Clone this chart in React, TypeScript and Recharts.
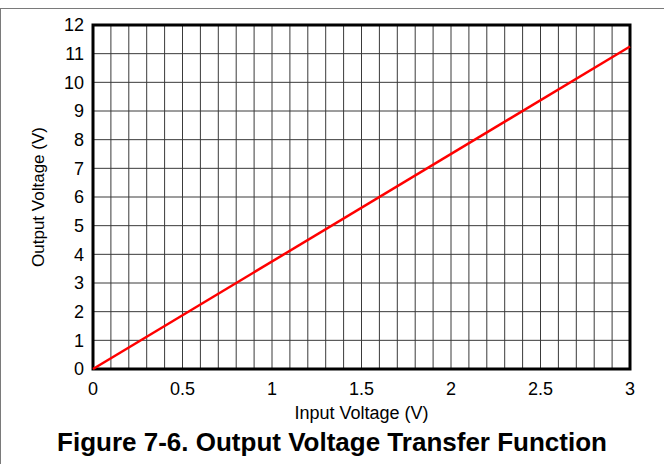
import {
  CartesianGrid,
  Label,
  Line,
  LineChart,
  ReferenceArea,
  XAxis,
  YAxis,
} from "recharts";

// transfer function: Vout vs Vin
const inputVoltage = [0, 3];
const outputVoltage = [0, 11.25];

const xTicks = [0, 0.5, 1, 1.5, 2, 2.5, 3];
const xGridTicks = [
  0, 0.1, 0.2, 0.3, 0.4, 0.5, 0.6, 0.7, 0.8, 0.9, 1, 1.1, 1.2, 1.3, 1.4, 1.5,
  1.6, 1.7, 1.8, 1.9, 2, 2.1, 2.2, 2.3, 2.4, 2.5, 2.6, 2.7, 2.8, 2.9, 3,
];
const yTicks = [0, 1, 2, 3, 4, 5, 6, 7, 8, 9, 10, 11, 12];

const FONT = '"Liberation Sans", Arial, Helvetica, sans-serif';

const data = inputVoltage.map((v, i) => ({ vin: v, vout: outputVoltage[i] }));

export default function App() {
  const tick = { fontSize: 18, fill: "#000", fontFamily: FONT };
  return (
    <div
      style={{
        position: "absolute",
        left: 0,
        top: 0,
        width: 664,
        height: 464,
        background: "#fff",
        fontFamily: FONT,
      }}
    >
      <div
        style={{
          position: "absolute",
          left: 0,
          top: 8,
          width: 664,
          height: 456,
          borderTop: "1px solid #7a7a7a",
          borderLeft: "1px solid #7a7a7a",
          boxSizing: "border-box",
        }}
      />
      <div style={{ position: "absolute", left: 0, top: 0 }}>
        <LineChart
          width={664}
          height={424}
          data={data}
          margin={{ top: 25, right: 34, bottom: 25, left: 0 }}
        >
          <XAxis
            xAxisId="grid"
            type="number"
            dataKey="vin"
            domain={[0, 3]}
            ticks={xGridTicks}
            interval={0}
            hide
          />
          <CartesianGrid xAxisId="grid" stroke="#3a3a3a" strokeWidth={1} />
          <XAxis
            type="number"
            dataKey="vin"
            domain={[0, 3]}
            ticks={xTicks}
            interval={0}
            height={30}
            tick={tick}
            tickLine={false}
            axisLine={false}
            tickSize={0}
            tickMargin={13}
          >
            <Label
              value="Input Voltage (V)"
              position="bottom"
              offset={7}
              style={{ fontSize: 18, fill: "#000", fontFamily: FONT }}
            />
          </XAxis>
          <YAxis
            type="number"
            domain={[0, 12]}
            ticks={yTicks}
            interval={0}
            width={93}
            tick={tick}
            tickLine={false}
            axisLine={false}
            tickSize={0}
            tickMargin={9}
          >
            <Label
              value="Output Voltage (V)"
              angle={-90}
              position="insideLeft"
              offset={38}
              style={{ fontSize: 17, fill: "#000", fontFamily: FONT, textAnchor: "middle" }}
            />
          </YAxis>
          <Line
            type="linear"
            dataKey="vout"
            stroke="#ff0000"
            strokeWidth={2.5}
            dot={false}
            activeDot={false}
            isAnimationActive={false}
          />
          <ReferenceArea
            x1={0}
            x2={3}
            y1={0}
            y2={12}
            fill="none"
            stroke="#000"
            strokeWidth={3}
            ifOverflow="visible"
          />
        </LineChart>
      </div>
      <div
        style={{
          position: "absolute",
          left: 0,
          top: 429,
          width: 664,
          textAlign: "center",
          fontSize: 26,
          lineHeight: "26px",
          fontWeight: "bold",
          color: "#000",
        }}
      >
        Figure 7-6. Output Voltage Transfer Function
      </div>
    </div>
  );
}
